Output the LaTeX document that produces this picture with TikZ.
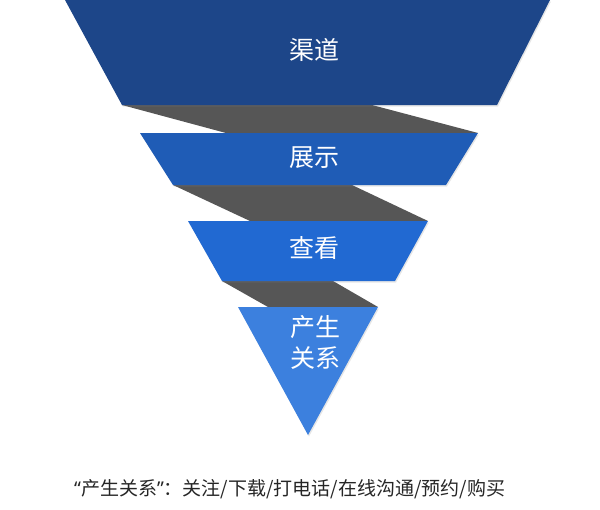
\documentclass[tikz,border=0pt]{standalone}
\usepackage{fontspec}
\newfontfamily\cjk{Noto Sans CJK SC}
\newfontfamily\latn{Noto Sans}
\usetikzlibrary{shadows}
\definecolor{cA}{HTML}{1D4689}
\definecolor{cB}{HTML}{1F5CB6}
\definecolor{cC}{HTML}{2169D2}
\definecolor{cD}{HTML}{3C80DE}
\definecolor{band}{HTML}{565656}
\tikzset{
  layer/.style={draw=none, drop shadow={opacity=0.2, shadow xshift=1pt, shadow yshift=-1.5pt}},
  lbl/.style={text=white, font=\cjk\fontsize{25}{30}\selectfont, inner sep=0pt},
  note/.style={text=black!85, font=\cjk\fontsize{19}{23}\selectfont, inner sep=0pt, anchor=west}
}
\begin{document}
\begin{tikzpicture}[x=1pt,y=-1pt]
\useasboundingbox (0,0) rectangle (600,509);
% gray bands
\fill[band] (122,105) -- (372,105) -- (478,133) -- (226,133) -- cycle;
\fill[band] (173,185) -- (352,185) -- (428,221) -- (250,221) -- cycle;
\fill[band] (222,281) -- (333,281) -- (378,307) -- (268,307) -- cycle;
% funnel layers
\fill[cA, layer] (65,0) -- (550,0) -- (497,105) -- (122,105) -- cycle;
\fill[cB, layer] (140,133) -- (478,133) -- (446,185) -- (173,185) -- cycle;
\fill[cC, layer] (188,221) -- (428,221) -- (395,281) -- (222,281) -- cycle;
\fill[cD, layer] (238,307) -- (378,307) -- (308,435) -- cycle;
% labels
\node[lbl] (l1) at (314,50) {渠道};
\node[lbl] (l2) at (314,158) {展示};
\node[lbl] (l3) at (314,248) {查看};
\node[lbl, align=center, font=\cjk\fontsize{25}{31}\selectfont] (l4) at (315,342) {产生\\关系};
\node[note] (n) at (74,489) {{\latn “}产生关系{\latn ”}：关注/下载/打电话/在线沟通/预约/购买};
\end{tikzpicture}
\end{document}
